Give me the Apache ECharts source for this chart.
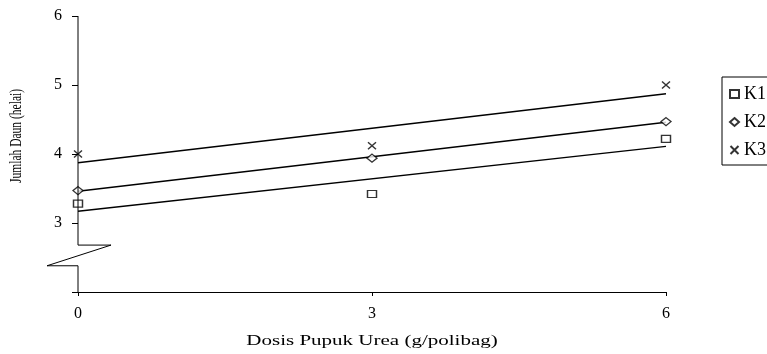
<!DOCTYPE html>
<html><head><meta charset="utf-8">
<script src="https://cdn.jsdelivr.net/npm/echarts@6/dist/echarts.min.js"></script>
<style>html,body{margin:0;padding:0;background:#fff}#c{width:767px;height:354px}</style>
</head><body><div id="c"></div>
<script>
// ---- data ----
const doses = [0, 3, 6];
const seriesNames = ['K1', 'K2', 'K3'];
const k1 = [3.28, 3.42, 4.22];
const k2 = [3.47, 3.94, 4.47];
const k3 = [4.00, 4.12, 5.00];
const xTicks = [0, 3, 6];
const yTicks = [3, 4, 5, 6];
const xTitle = 'Dosis Pupuk Urea (g/polibag)';
const yTitle = 'Jumlah Daun (helai)';

const serif = 'Liberation Serif';

function fit(ys) {
  const n = ys.length;
  const mx = doses.reduce((a, b) => a + b, 0) / n;
  const my = ys.reduce((a, b) => a + b, 0) / n;
  let sxy = 0, sxx = 0;
  for (let i = 0; i < n; i++) { sxy += (doses[i] - mx) * (ys[i] - my); sxx += (doses[i] - mx) ** 2; }
  const b = sxy / sxx, a = my - b * mx;
  const x0 = doses[0], x1 = doses[n - 1];
  return [[x0, a + b * x0], [x1, a + b * x1]];
}

const symbols = ['rect', 'diamond', 'path://M0,0L10,10M10,0L0,10'];
const sizes = [[9, 7], [10, 8], [8, 7]];
const allData = [k1, k2, k3];

const series = [];
allData.forEach((ys, i) => {
  series.push({
    name: seriesNames[i] + ' trend', type: 'line', data: fit(ys), symbol: 'none',
    lineStyle: { color: '#000', width: 1.3 }, silent: true, z: 2
  });
});
allData.forEach((ys, i) => {
  series.push({
    name: seriesNames[i], type: 'scatter', data: ys.map((v, j) => [doses[j], v]),
    symbol: symbols[i], symbolSize: sizes[i],
    itemStyle: i === 2 ? { color: 'none', borderColor: '#000', borderWidth: 1.3 }
                       : { color: '#fff', borderColor: '#000', borderWidth: 1.3 },
    z: 3
  });
});

const chart = echarts.init(document.getElementById('c'), null, { renderer: 'canvas' });
chart.setOption({
  animation: false,
  backgroundColor: '#fff',
  grid: { left: 78, right: 101, top: 16, bottom: 62, containLabel: false },
  xAxis: {
    type: 'value', min: 0, max: 6, interval: 3,
    axisLine: { lineStyle: { color: '#000', width: 1 } },
    axisTick: { length: 4, lineStyle: { color: '#000' } },
    splitLine: { show: false },
    axisLabel: { color: '#000', fontFamily: serif, fontSize: 16, margin: 14,
      formatter: v => xTicks.includes(v) ? String(v) : '' }
  },
  yAxis: {
    type: 'value', min: 2, max: 6, interval: 1,
    axisLine: { show: false },
    axisTick: { show: true, length: 6, lineStyle: { color: '#000' } },
    splitLine: { show: false },
    axisLabel: { color: '#000', fontFamily: serif, fontSize: 16, margin: 16,
      formatter: v => yTicks.includes(v) ? String(v) : '' }
  },
  legend: {
    orient: 'vertical', left: 722, top: 77,
    data: seriesNames,
    itemWidth: 9, itemHeight: 8, itemGap: 10, align: 'left',
    borderColor: '#000', borderWidth: 1, borderRadius: 0,
    padding: [8, 60, 6, 6],
    textStyle: { color: '#000', fontFamily: serif, fontSize: 18, lineHeight: 14 },
    selectedMode: false
  },
  series: series
});

// axis line with break symbol, placed through the axis scales
const brk = { top: 2.68, bottom: 2.38, right: 0.337, left: -0.316 };
const P = p => chart.convertToPixel({ gridIndex: 0 }, p);
const pts = [P([0, 6]), P([0, brk.top]), P([brk.right, brk.top]), P([brk.left, brk.bottom]), P([0, brk.bottom]), P([0, 2])];
const xMid = P([3, 2]);
chart.setOption({
  graphic: [
    { type: 'polyline', shape: { points: pts }, style: { stroke: '#000', lineWidth: 1, fill: null }, z: 10 },
    { type: 'text', x: xMid[0], y: 341, scaleX: 1.4, style: { text: xTitle, font: '15px "Liberation Serif"', fill: '#000', align: 'center', verticalAlign: 'middle' } },
    { type: 'text', x: 17, y: 136, rotation: Math.PI / 2, scaleX: 0.72, style: { text: yTitle, font: '16px "Liberation Serif"', fill: '#000', align: 'center', verticalAlign: 'middle' } }
  ]
});
</script>
</body></html>
